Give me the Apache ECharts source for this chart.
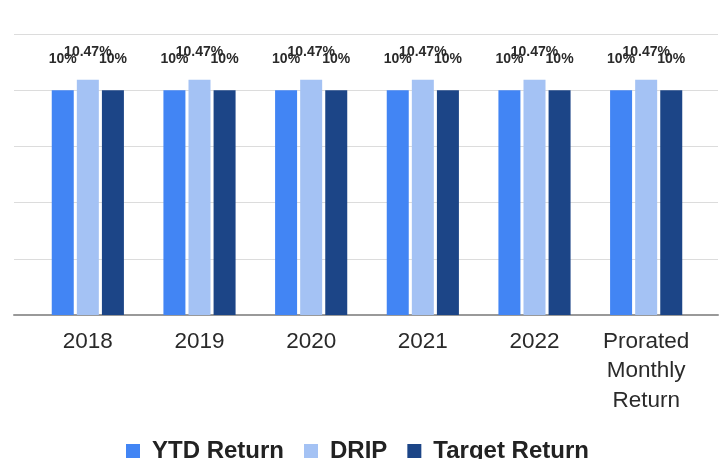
<!DOCTYPE html>
<html>
<head>
<meta charset="utf-8">
<script src="https://cdn.jsdelivr.net/npm/echarts@6/dist/echarts.min.js"></script>
<style>
html,body{margin:0;padding:0;background:#fff;}
#c{width:726px;height:459px;}
</style>
</head>
<body>
<div id="c"></div>
<script>
const categories = ['2018', '2019', '2020', '2021', '2022', 'Prorated\nMonthly\nReturn'];
const ytdReturn = [10, 10, 10, 10, 10, 10];
const drip = [10.47, 10.47, 10.47, 10.47, 10.47, 10.47];
const targetReturn = [10, 10, 10, 10, 10, 10];
const yMin = 0, yMax = 12.5, yInterval = 2.5;

const FONT = "'Liberation Sans', Arial, sans-serif";
const chart = echarts.init(document.getElementById('c'), null, {renderer: 'canvas'});

function labelCfg(dist) {
  return {
    show: true,
    position: 'top',
    distance: dist,
    color: '#2a2a2a',
    fontFamily: FONT,
    fontWeight: 'bold',
    fontSize: 14,
    formatter: p => p.value + '%'
  };
}

function bar(name, data, color, dist) {
  return {
    name, type: 'bar', data,
    xAxisIndex: 1, yAxisIndex: 1,
    barWidth: 22, barGap: '14%',
    itemStyle: {color},
    label: labelCfg(dist),
    emphasis: {disabled: true}
  };
}

chart.setOption({
  animation: false,
  grid: [
    {left: 14, right: 8, top: 34, bottom: 144},
    {left: 32, right: 24, top: 34, bottom: 144}
  ],
  legend: {
    top: 434,
    left: 121,
    icon: 'rect',
    itemWidth: 14,
    itemHeight: 14,
    itemGap: 20,
    textStyle: {fontFamily: FONT, fontWeight: 'bold', fontSize: 24, color: '#222', padding: [0, 0, 0, 7]},
    data: ['YTD Return', 'DRIP', 'Target Return']
  },
  xAxis: [
    {gridIndex: 0, type: 'category', data: categories,
     axisLine: {show: true, lineStyle: {color: '#999', width: 2}},
     axisTick: {show: false}, axisLabel: {show: false}, splitLine: {show: false}},
    {gridIndex: 1, type: 'category', data: categories,
     axisLine: {show: false}, axisTick: {show: false},
     axisLabel: {show: true, interval: 0, margin: 12, color: '#2a2a2a',
       fontFamily: FONT, fontSize: 22.5, lineHeight: 29.5, align: 'center'}}
  ],
  yAxis: [
    {gridIndex: 0, type: 'value', min: yMin, max: yMax, interval: yInterval,
     axisLine: {show: false}, axisTick: {show: false}, axisLabel: {show: false},
     splitLine: {show: true, lineStyle: {color: '#dcdcdc', width: 1}}},
    {gridIndex: 1, type: 'value', min: yMin, max: yMax, interval: yInterval,
     axisLine: {show: false}, axisTick: {show: false}, axisLabel: {show: false},
     splitLine: {show: false}}
  ],
  series: [
    bar('YTD Return', ytdReturn, '#4285f4', 24),
    bar('DRIP', drip, '#a4c2f4', 20),
    bar('Target Return', targetReturn, '#1c4587', 24)
  ]
});
</script>
</body>
</html>
